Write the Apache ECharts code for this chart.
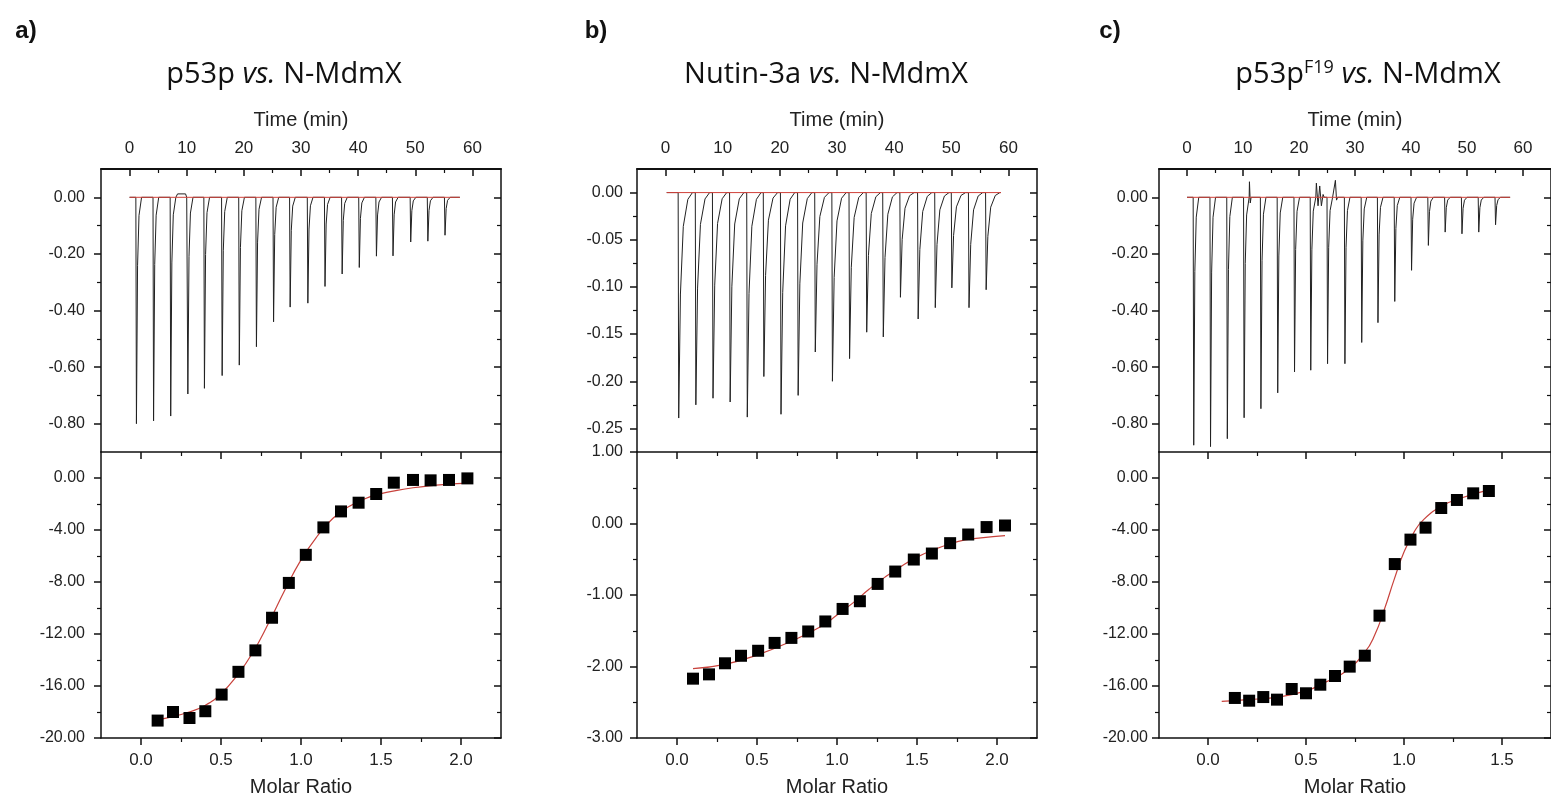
<!DOCTYPE html>
<html>
<head>
<meta charset="utf-8">
<script src="https://cdn.jsdelivr.net/npm/echarts@6/dist/echarts.min.js"></script>
<style>
  html, body { margin: 0; background: #fff; }
  #main { width: 1551px; height: 803px; }
</style>
</head>
<body>
<div id="main"></div>
<script>
// ---- raw thermograms: injection time (min) and peak depth (ucal/sec) ----
var injA  = [1.2, 4.2, 7.2, 10.2, 13.1, 16.2, 19.2, 22.2, 25.2, 28.1, 31.2, 34.2, 37.2, 40.2, 43.2, 46.1, 49.2, 52.2, 55.2];
var peakA = [-0.80, -0.79, -0.773, -0.695, -0.675, -0.63, -0.593, -0.528, -0.44, -0.388, -0.374, -0.315, -0.271, -0.248, -0.208, -0.207, -0.158, -0.155, -0.134];
var blipsA = [[8.2, 0.003], [8.4, 0.012], [9.8, 0.012], [10.0, 0]];

var injB  = [2.3, 5.3, 8.3, 11.3, 14.3, 17.2, 20.2, 23.2, 26.2, 29.2, 32.2, 35.2, 38.1, 41.1, 44.2, 47.2, 50.1, 53.1, 56.1];
var peakB = [-0.239, -0.225, -0.218, -0.222, -0.238, -0.195, -0.235, -0.215, -0.169, -0.200, -0.176, -0.148, -0.153, -0.111, -0.134, -0.122, -0.101, -0.122, -0.103];
var blipsB = [];

var injC  = [1.2, 4.2, 7.2, 10.2, 13.2, 16.2, 19.2, 22.1, 25.1, 28.2, 31.2, 34.1, 37.1, 40.1, 43.1, 46.1, 49.1, 52.1, 55.1];
var peakC = [-0.876, -0.881, -0.853, -0.779, -0.747, -0.691, -0.617, -0.611, -0.588, -0.588, -0.513, -0.443, -0.368, -0.258, -0.170, -0.123, -0.129, -0.123, -0.097];
var blipsC = [[11.15, 0.055], [11.3, -0.02], [11.45, 0], [23.1, 0.05], [23.4, -0.03], [23.7, 0.04], [24.0, -0.03], [24.3, 0.01], [24.5, 0], [26.5, 0.06], [26.7, -0.01], [26.9, 0]];

// spike outline: [minutes after injection, fraction of peak]
var spikeShape  = [[-0.1, 0], [0, 1], [0.2, 0.3], [0.45, 0.08], [0.9, 0]];
var spikeShapeB = [[-0.1, 0], [0, 1], [0.3, 0.45], [0.8, 0.15], [1.6, 0.03], [2.4, 0]];

// baseline (red) start / end times
var baseA = [0, 57.8];
var baseB = [0.2, 58.7];
var baseC = [0, 57.7];

// ---- integrated heats (kcal/mol of injectant) vs molar ratio ----
var ratioA = [0.104, 0.200, 0.303, 0.402, 0.504, 0.609, 0.715, 0.819, 0.924, 1.030, 1.140, 1.250, 1.360, 1.470, 1.580, 1.700, 1.810, 1.925, 2.040];
var heatA  = [-18.66, -18.00, -18.46, -17.94, -16.66, -14.91, -13.26, -10.75, -8.07, -5.91, -3.80, -2.57, -1.90, -1.23, -0.36, -0.15, -0.18, -0.15, -0.03];
var fitXA  = [0.10, 0.2, 0.3, 0.4, 0.5, 0.6, 0.7, 0.8, 0.9, 1.0, 1.1, 1.2, 1.3, 1.4, 1.5, 1.6, 1.7, 1.8, 1.9, 2.05];
var fitYA  = [-18.6, -18.35, -18.0, -17.5, -16.6, -15.2, -13.4, -11.1, -8.6, -6.3, -4.5, -3.1, -2.2, -1.6, -1.2, -0.95, -0.75, -0.6, -0.5, -0.4];

var ratioB = [0.10, 0.20, 0.30, 0.40, 0.507, 0.61, 0.715, 0.82, 0.927, 1.035, 1.143, 1.254, 1.364, 1.48, 1.593, 1.707, 1.82, 1.935, 2.05];
var heatB  = [-2.17, -2.11, -1.955, -1.85, -1.78, -1.67, -1.60, -1.51, -1.37, -1.195, -1.087, -0.845, -0.672, -0.504, -0.42, -0.275, -0.154, -0.05, -0.028];
var fitXB  = [0.10, 0.3, 0.5, 0.7, 0.9, 1.0, 1.1, 1.2, 1.3, 1.4, 1.5, 1.6, 1.7, 1.8, 1.9, 2.05];
var fitYB  = [-2.03, -1.97, -1.84, -1.66, -1.44, -1.28, -1.11, -0.92, -0.75, -0.60, -0.47, -0.37, -0.29, -0.23, -0.20, -0.17];

var ratioC = [0.137, 0.21, 0.282, 0.352, 0.427, 0.50, 0.573, 0.648, 0.723, 0.80, 0.875, 0.953, 1.033, 1.11, 1.19, 1.27, 1.353, 1.433];
var heatC  = [-16.92, -17.13, -16.85, -17.05, -16.23, -16.56, -15.9, -15.23, -14.51, -13.67, -10.59, -6.62, -4.74, -3.82, -2.31, -1.69, -1.18, -1.0];
var fitXC  = [0.07, 0.2, 0.35, 0.5, 0.6, 0.7, 0.8, 0.85, 0.9, 0.95, 1.0, 1.05, 1.1, 1.2, 1.3, 1.4, 1.45];
var fitYC  = [-17.18, -17.05, -16.87, -16.38, -15.7, -14.9, -13.4, -12.1, -10.1, -7.8, -5.7, -4.2, -3.2, -2.1, -1.5, -1.05, -0.87];

// ---- ticks ----
var timeTicks = [0, 10, 20, 30, 40, 50, 60];
var timeMinor = [5, 15, 25, 35, 45, 55];
var molarTicks  = [0, 0.5, 1, 1.5, 2];
var molarMinor  = [0.25, 0.75, 1.25, 1.75];
var molarTicksC = [0, 0.5, 1, 1.5];
var molarMinorC = [0.25, 0.75, 1.25];
var rawTicks  = [0, -0.2, -0.4, -0.6, -0.8];
var rawMinor  = [-0.1, -0.3, -0.5, -0.7];
var rawTicksB = [0, -0.05, -0.1, -0.15, -0.2, -0.25];
var rawMinorB = [-0.025, -0.075, -0.125, -0.175, -0.225];
var heatTicks  = [0, -4, -8, -12, -16, -20];
var heatMinor  = [-2, -6, -10, -14, -18];
var heatTicksB = [1, 0, -1, -2, -3];
var heatMinorB = [0.5, -0.5, -1.5, -2.5];

var FONT = 'Liberation Sans';
var INK = '#111';

var panels = [
  { left: 101, tag: 'a)', tagX: 26, titleX: 284,
    title: '{n|p53p }{i|vs.}{n| N-MdmX}',
    inj: injA, peak: peakA, blips: blipsA, shape: spikeShape, base: baseA,
    rawRange: [-0.9, 0.1], rawTicks: rawTicks, rawMinor: rawMinor,
    ratio: ratioA, heat: heatA, fitX: fitXA, fitY: fitYA,
    molRange: [-0.25, 2.25], molTicks: molarTicks, molMinor: molarMinor,
    heatRange: [-20, 2], heatTicks: heatTicks, heatMinor: heatMinor, margin: 16 },
  { left: 637, tag: 'b)', tagX: 596, titleX: 826,
    title: '{n|Nutin-3a }{i|vs.}{n| N-MdmX}',
    inj: injB, peak: peakB, blips: blipsB, shape: spikeShapeB, base: baseB,
    rawRange: [-0.275, 0.025], rawTicks: rawTicksB, rawMinor: rawMinorB,
    ratio: ratioB, heat: heatB, fitX: fitXB, fitY: fitYB,
    molRange: [-0.25, 2.25], molTicks: molarTicks, molMinor: molarMinor,
    heatRange: [-3, 1], heatTicks: heatTicksB, heatMinor: heatMinorB, margin: 14 },
  { left: 1159, tag: 'c)', tagX: 1110, titleX: 1368,
    title: '{n|p53p}{s|F19}{n| }{i|vs.}{n| N-MdmX}',
    inj: injC, peak: peakC, blips: blipsC, shape: spikeShape, base: baseC,
    rawRange: [-0.9, 0.1], rawTicks: rawTicks, rawMinor: rawMinor,
    ratio: ratioC, heat: heatC, fitX: fitXC, fitY: fitYC,
    molRange: [-0.25, 1.75], molTicks: molarTicksC, molMinor: molarMinorC,
    heatRange: [-20, 2], heatTicks: heatTicks, heatMinor: heatMinor, margin: 11 }
];

var grids = [], xAxes = [], yAxes = [], series = [], graphics = [];

// one axis = a major-tick axis plus a minor-tick twin at the same place
function addAxes(list, gi, pos, range, major, minor, o) {
  var base = { type: 'value', gridIndex: gi, position: pos, min: range[0], max: range[1],
    splitLine: { show: false } };
  var ax = Object.assign({}, base, {
    axisLine: { show: o.line !== false, onZero: false, lineStyle: { color: INK, width: o.lineWidth || 1.5 } },
    axisTick: { show: true, inside: !!o.inside, length: 7, customValues: major, lineStyle: { color: INK, width: 1.5 } },
    axisLabel: o.label ? { show: true, customValues: major, formatter: o.label, margin: o.margin,
      fontSize: o.fontSize, fontFamily: FONT, color: '#222' } : { show: false }
  });
  if (o.name) {
    ax.name = o.name;
    ax.nameLocation = 'middle';
    ax.nameGap = o.nameGap;
    ax.nameTextStyle = { fontSize: 20, fontFamily: FONT, color: '#222' };
  }
  list.push(ax);
  var idx = list.length - 1;
  list.push(Object.assign({}, base, {
    axisLine: { show: false, onZero: false },
    axisLabel: { show: false },
    axisTick: { show: true, inside: !!o.inside, length: 4, customValues: minor, lineStyle: { color: INK, width: 1.2 } }
  }));
  return idx;
}

function buildTrace(p) {
  var pts = [[p.base[0], 0]];
  p.inj.forEach(function (t, i) {
    p.shape.forEach(function (s) { pts.push([t + s[0], p.peak[i] * s[1]]); });
  });
  p.blips.forEach(function (b) { pts.push(b); });
  pts.push([p.base[1], 0]);
  pts.sort(function (a, b) { return a[0] - b[0]; });
  return pts;
}

var fmt2 = function (v) { return (+v).toFixed(2); };
var fmt1 = function (v) { return (+v).toFixed(1); };
var fmt0 = function (v) { return String(Math.round(v)); };

panels.forEach(function (p, k) {
  var gTop = 2 * k, gBot = 2 * k + 1;
  grids.push({ left: p.left, top: 169, width: 400, height: 283 });
  grids.push({ left: p.left, top: 452, width: 400, height: 286 });

  // upper panel: time on top, mirrored ticks right
  var xt = addAxes(xAxes, gTop, 'top', [-5, 65], timeTicks, timeMinor,
    { inside: true, label: fmt0, margin: 12, fontSize: 17, lineWidth: 2, name: 'Time (min)', nameGap: 39 });
  var yl = addAxes(yAxes, gTop, 'left', p.rawRange, p.rawTicks, p.rawMinor,
    { inside: false, label: fmt2, margin: p.margin, fontSize: 16 });
  addAxes(yAxes, gTop, 'right', p.rawRange, p.rawTicks, p.rawMinor, { inside: true });

  // lower panel: molar ratio at bottom, mirrored ticks on top and right
  var xb = addAxes(xAxes, gBot, 'bottom', p.molRange, p.molTicks, p.molMinor,
    { inside: false, label: fmt1, margin: 14, fontSize: 17, name: 'Molar Ratio', nameGap: 39 });
  addAxes(xAxes, gBot, 'top', p.molRange, p.molTicks, p.molMinor, { inside: true });
  var yb = addAxes(yAxes, gBot, 'left', p.heatRange, p.heatTicks, p.heatMinor,
    { inside: false, label: fmt2, margin: p.margin, fontSize: 16 });
  addAxes(yAxes, gBot, 'right', p.heatRange, p.heatTicks, p.heatMinor, { inside: true });

  series.push({
    type: 'line', xAxisIndex: xt, yAxisIndex: yl, data: buildTrace(p),
    showSymbol: false, lineStyle: { color: '#222', width: 1 }, z: 2
  });
  series.push({
    type: 'line', xAxisIndex: xt, yAxisIndex: yl, data: [[p.base[0], 0], [p.base[1], 0]],
    showSymbol: false, lineStyle: { color: '#d0413a', width: 1 }, z: 3
  });
  series.push({
    type: 'line', xAxisIndex: xb, yAxisIndex: yb,
    data: p.fitX.map(function (x, i) { return [x, p.fitY[i]]; }),
    smooth: true, showSymbol: false, lineStyle: { color: '#c8423c', width: 1.2 }, z: 2
  });
  series.push({
    type: 'scatter', xAxisIndex: xb, yAxisIndex: yb,
    data: p.ratio.map(function (x, i) { return [x, p.heat[i]]; }),
    symbol: 'rect', symbolSize: 12, itemStyle: { color: '#000', opacity: 1 }, z: 3
  });

  graphics.push({
    type: 'text', x: p.tagX, y: 31,
    style: { text: p.tag, fontSize: 24, fontWeight: 'bold', fontFamily: FONT, fill: INK,
      align: 'center', verticalAlign: 'middle' }
  });
  graphics.push({
    type: 'text', x: p.titleX, y: 75,
    style: {
      text: p.title, align: 'center', verticalAlign: 'middle', fill: INK,
      rich: {
        n: { fontSize: 29, fontFamily: 'Open Sans', color: INK },
        i: { fontSize: 29, fontFamily: 'Open Sans', fontStyle: 'italic', color: INK },
        s: { fontSize: 18, fontFamily: 'Open Sans', color: INK, padding: [0, 0, 15, 0] }
      }
    }
  });
});

var myChart = echarts.init(document.getElementById('main'));
myChart.setOption({
  animation: false,
  backgroundColor: '#fff',
  grid: grids,
  xAxis: xAxes,
  yAxis: yAxes,
  series: series,
  graphic: graphics
});
</script>
</body>
</html>
